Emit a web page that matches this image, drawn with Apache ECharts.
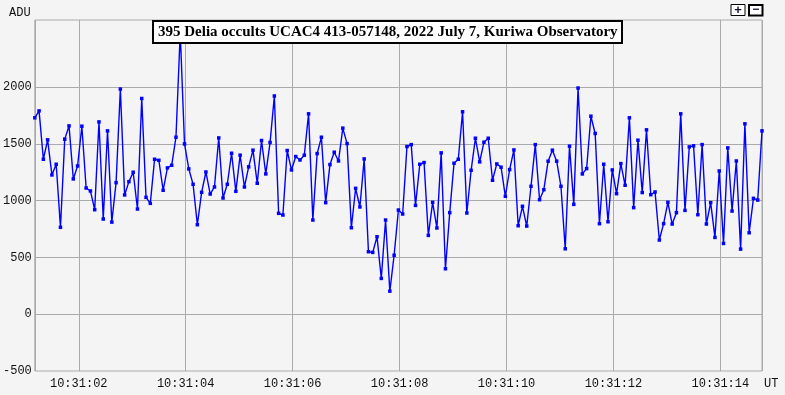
<!DOCTYPE html>
<html><head><meta charset="utf-8">
<script src="https://cdn.jsdelivr.net/npm/echarts@6/dist/echarts.min.js"></script>
<style>html,body{margin:0;padding:0;background:#f4f4f4;}#c{width:785px;height:395px;}</style>
</head><body><div id="c"></div>
<script>
const titleText = '395 Delia occults UCAC4 413-057148, 2022 July 7, Kuriwa Observatory';
const yAxisName = 'ADU';
const xAxisName = 'UT';
// time of first frame, seconds after 10:31:00 UT, and frame spacing (s)
const startSecond = 1.178;
const frameStep = 0.08;
const adu = [
1729,1790,1364,1535,1226,1320,765,1541,1658,1191,
1305,1655,1111,1085,920,1693,838,1614,811,1158,
1982,1050,1167,1250,926,1899,1029,976,1364,1355,
1091,1288,1311,1558,2480,1499,1279,1144,788,1073,
1252,1058,1120,1552,1023,1144,1417,1082,1400,1120,
1297,1444,1153,1529,1235,1512,1921,888,873,1441,
1270,1388,1358,1400,1764,829,1414,1558,982,1317,
1426,1349,1638,1502,761,1108,944,1367,550,544,
682,315,829,203,519,917,882,1476,1493,958,
1320,1335,694,985,759,1420,400,894,1329,1364,
1782,891,1267,1549,1341,1514,1549,1179,1323,1294,
1038,1273,1446,779,950,776,1126,1493,1008,1096,
1347,1444,1347,1126,576,1479,967,1991,1235,1282,
1743,1591,797,1320,814,1270,1061,1326,1135,1729,
938,1532,1071,1623,1052,1076,653,797,985,794,
894,1764,914,1473,1482,876,1493,794,982,676,
1261,623,1464,908,1349,573,1676,717,1020,1005,
1614
];
const yTicks = [-500, 0, 500, 1000, 1500, 2000];
const xTickSeconds = [2, 4, 6, 8, 10, 12, 14];
const xTickLabels = ['10:31:02','10:31:04','10:31:06','10:31:08','10:31:10','10:31:12','10:31:14'];
const yMin = -500, yMax = 2590;

const pts = adu.map((v, i) => [Math.round((startSecond + i * frameStep) * 1000) / 1000, v]);
const xMin = pts[0][0], xMax = pts[pts.length - 1][0];

const chart = echarts.init(document.getElementById('c'), null, {renderer: 'canvas'});
const mono = 'Liberation Mono';
chart.setOption({
  animation: false,
  backgroundColor: '#f4f4f4',
  title: {
    text: titleText, left: 153, top: 21,
    backgroundColor: '#ffffff', borderColor: '#000', borderWidth: 2,
    padding: [3, 5, 2, 5],
    textStyle: {fontFamily: 'Liberation Serif', fontWeight: 'bold', fontSize: 15, color: '#000', lineHeight: 17}
  },
  grid: {left: 34, right: 23, top: 20, bottom: 24, show: true, borderColor: '#aaa', borderWidth: 1, backgroundColor: 'transparent'},
  xAxis: {
    type: 'value', min: xMin, max: xMax, splitNumber: 7,
    axisLine: {show: false}, axisTick: {show: false},
    splitLine: {show: true, lineStyle: {color: '#aaa', width: 1}},
    axisLabel: {
      margin: 7, fontFamily: mono, fontSize: 12, color: '#111',
      formatter: v => { const i = xTickSeconds.findIndex(s => Math.abs(s - v) < 1e-6); return i >= 0 ? xTickLabels[i] : ''; }
    }
  },
  yAxis: {
    type: 'value', min: yMin, max: yMax, interval: 500,
    axisLine: {show: false}, axisTick: {show: false},
    splitLine: {show: false},
    axisLabel: {
      margin: 3, fontFamily: mono, fontSize: 12, color: '#111',
      formatter: v => yTicks.indexOf(v) >= 0 ? String(v) : ''
    }
  },
  series: [
    {
      type: 'line', data: [], silent: true, z: 1,
      markLine: {
        silent: true, z: 1, symbol: ['none', 'none'], label: {show: false},
        lineStyle: {color: '#aaa', width: 1, type: 'solid'},
        emphasis: {disabled: true},
        data: yTicks.filter(v => v > yMin).map(v => ({yAxis: v}))
      }
    },
    {
      type: 'line', data: pts, z: 3, silent: true,
      symbol: 'rect', symbolSize: 3.5, showAllSymbol: true,
      itemStyle: {color: '#0000ff'},
      lineStyle: {color: '#0000ff', width: 1.4},
      emphasis: {disabled: true}
    }
  ],
  graphic: [
    {type: 'text', left: 9, top: 7, style: {text: yAxisName, font: '12px "Liberation Mono"', fill: '#111'}},
    {type: 'text', left: 764, top: 378, style: {text: xAxisName, font: '12px "Liberation Mono"', fill: '#111'}},
    {type: 'rect', shape: {x: 731, y: 4.5, width: 14, height: 11}, style: {fill: '#fff', stroke: '#000', lineWidth: 1}},
    {type: 'text', x: 738, y: 10, style: {text: '+', font: 'bold 13px "Liberation Sans"', fill: '#113', align: 'center', verticalAlign: 'middle'}},
    {type: 'rect', shape: {x: 749, y: 5, width: 13.5, height: 10.5}, style: {fill: '#fff', stroke: '#000', lineWidth: 2}},
    {type: 'text', x: 755.7, y: 10, style: {text: '\u2212', font: 'bold 12px "Liberation Sans"', fill: '#113', align: 'center', verticalAlign: 'middle'}}
  ]
});
</script>
</body></html>
